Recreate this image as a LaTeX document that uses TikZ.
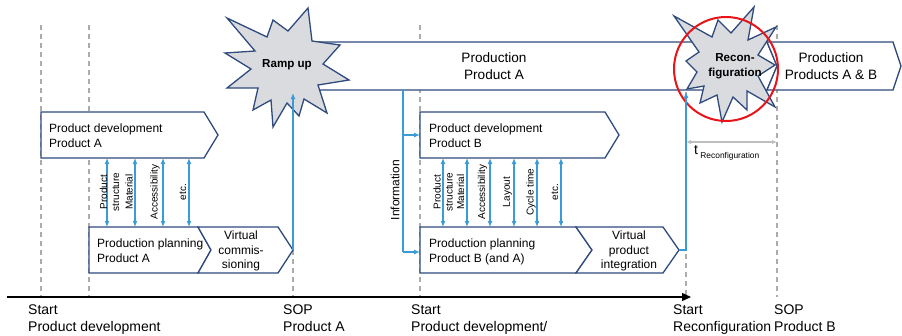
\documentclass[tikz,border=0pt]{standalone}
\usepackage{fontspec}
\setmainfont{Liberation Sans}
\usepackage{tikz}
\usetikzlibrary{arrows.meta}
\usetikzlibrary{calc}
\definecolor{navy}{RGB}{47,74,125}
\definecolor{infoblue}{RGB}{59,155,214}
\definecolor{stargray}{RGB}{218,219,222}
\definecolor{dashgray}{RGB}{172,172,172}
\definecolor{dimgray}{RGB}{190,190,190}
\definecolor{ringred}{RGB}{232,20,26}

\begin{document}
\begin{tikzpicture}[x=1pt,y=-1pt,
  phase/.style={draw=navy,line width=1.3pt,fill=white},
  burst/.style={draw=navy,line width=1.3pt,fill=stargray},
  milestone/.style={dashgray,line width=1.3pt,dash pattern=on 5pt off 4pt},
  info/.style={infoblue,line width=1.4pt},
  infoarrow/.style={info,-{Latex[length=6pt,width=5pt]}},
  both/.style={info,{Latex[length=6pt,width=5pt]}-{Latex[length=6pt,width=5pt]}},
  boxtext/.style={font=\fontsize{12}{15}\selectfont,align=left,anchor=north west,inner sep=0pt},
  vtext/.style={font=\fontsize{12}{14.5}\selectfont,align=center,inner sep=0pt},
  prodtext/.style={font=\fontsize{13.6}{17}\selectfont,align=center,inner sep=0pt},
  lbl/.style={font=\fontsize{10}{12}\selectfont,rotate=90,align=center,inner sep=0pt},
  mstext/.style={font=\fontsize{14}{17}\selectfont,align=left,anchor=north west,inner sep=0pt},
  burstlbl/.style={font=\bfseries\fontsize{11.6}{14.5}\selectfont,align=center,inner sep=0pt}]
\useasboundingbox (0,0) rectangle (902,335);
%%% milestones (dashed)
\foreach \x in {41,89,293,420,777}
  \draw[milestone] (\x,25) -- (\x,297);
\draw[milestone] (686,92) -- (686,297);
%
%%% production
\draw[phase] (280,42) -- (767,42) -- (777,66) -- (767,90) -- (280,90) -- cycle;
\node[prodtext] (prodA) at (494,66) {Production\\Product A};
\draw[phase] (767,42) -- (893,42) -- (901,66) -- (893,90) -- (767,90) -- (777,66) -- cycle;
\node[prodtext] (prodAB) at (831,66) {Production\\Products A \& B};
%
%%% product A
\draw[phase] (41,112) -- (204,112) -- (218,135) -- (204,158) -- (41,158) -- cycle;
\node[boxtext] (devA) at (49,124) {Product development\\Product A};
\draw[phase] (89,227) -- (198,227) -- (211,250) -- (198,273) -- (89,273) -- cycle;
\node[boxtext] (planA) at (97,239) {Production planning\\Product A};
\draw[phase] (198,227) -- (278,227) -- (293,250) -- (278,273) -- (198,273) -- (211,250) -- cycle;
\node[vtext] (vcA) at (241,251) {Virtual\\commis-\\sioning};
\coordinate (devA-b) at (41,158);
\coordinate (planA-t) at (89,227);
\coordinate (vcA-tip) at (293,250);
%
%%% product B
\draw[phase] (420,112) -- (605,112) -- (619,135) -- (605,158) -- (420,158) -- cycle;
\node[boxtext] (devB) at (429,124) {Product development\\Product B};
\draw[phase] (420,227) -- (576,227) -- (592,250) -- (576,273) -- (420,273) -- cycle;
\node[boxtext] (planB) at (429,239) {Production planning\\Product B (and A)};
\draw[phase] (576,227) -- (663,227) -- (679,250) -- (663,273) -- (576,273) -- (592,250) -- cycle;
\node[vtext] (vpi) at (629,251) {Virtual\\product\\integration};
\coordinate (devB-b) at (420,158);
\coordinate (planB-t) at (420,227);
\coordinate (devB-w) at (420,135);
\coordinate (planB-w) at (420,252);
\coordinate (vpi-tip) at (679,250);
%
%%% ramp up
\draw[burst] (227,18) -- (267,37) -- (273,20) -- (288,31) -- (308,8) -- (312,41)
  -- (340,45) -- (323,64) -- (349,80) -- (318,85) -- (327,113) -- (304,99)
  -- (299,116) -- (287,103) -- (273,127) -- (271,100) -- (253,110) -- (258,88)
  -- (227,88) -- (251,69) -- (225,53) -- (255,51) -- cycle;
\node[burstlbl] (ramp) at (287,65) {Ramp up};
\coordinate (ramp-in) at (293,93);
%
%%% reconfiguration
\draw[burst] (674,16) -- (712,37) -- (718,20) -- (731,33) -- (754,7) -- (748,40)
  -- (776,27) -- (758,55) -- (775,65) -- (758,76) -- (775,107) -- (747,91)
  -- (747,110) -- (733,97) -- (722,122) -- (717,95) -- (700,103) -- (704,86)
  -- (687,89) -- (697,72) -- (686,61) -- (699,52) -- cycle;
\node[burstlbl] (reconf) at (735,66) {Recon-\\figuration};
\node[draw=ringred,line width=2pt,circle,minimum size=104pt,inner sep=0pt] (ring) at (726,69) {};
\coordinate (reconf-in) at (686,92);
%
%%% information flow
\foreach \x in {107,135,163,189}
  \draw[both] (\x,0 |- devA-b) -- (\x,0 |- planA-t);
\foreach \x in {443,467,490,514,537,561}
  \draw[both] (\x,0 |- devB-b) -- (\x,0 |- planB-t);
\foreach \x/\t [count=\i] in {109.5/{Product\\structure},129/Material,155/Accessibility,183/etc.}
  \node[lbl] (labA\i) at (\x,192) {\t};
\foreach \x/\t [count=\i] in {443/{Product\\structure},460.5/Material,482.5/Accessibility,507.5/Layout,531/Cycle time,555/etc.}
  \node[lbl] (labB\i) at (\x,192) {\t};
\coordinate (info-top) at (403,90);
\coordinate (info-mid) at (403,135);
\coordinate (info-bot) at (403,252);
\draw[info] (info-top) -- (info-bot);
\draw[infoarrow] (info-mid) -- (devB-w);
\draw[infoarrow] (info-bot) -- (planB-w);
\node[lbl,font=\fontsize{12}{14}\selectfont] (info) at (395,190) {Information};
\draw[infoarrow] (vcA-tip) -- (ramp-in);
\draw[infoarrow] (vpi-tip) -| (reconf-in);
%
%%% reconfiguration time
\coordinate (dimL) at (686,142);
\coordinate (dimR) at (777,142);
\draw[dimgray,line width=1.2pt,{Latex[length=5pt,width=4.5pt]}-{Latex[length=5pt,width=4.5pt]}] (dimL) -- (dimR);
\node[anchor=west,inner sep=0pt,font=\fontsize{14}{16}\selectfont] (tlab) at (694,153)
  {t\,\raisebox{-4pt}{\fontsize{8.4}{9}\selectfont Reconfiguration}};
%
%%% time axis
\coordinate (t0) at (7,297);
\coordinate (t1) at (691,297);
\draw[line width=1.3pt,-{Triangle[length=9pt,width=8pt]}] (t0) -- (t1);
\node[mstext] (m1) at (28,305) {Start\\Product development};
\node[mstext] (m2) at (283,305) {SOP\\Product A};
\node[mstext] (m3) at (411,305) {Start\\Product development/};
\node[mstext] (m4) at (673,305) {Start\\Reconfiguration};
\node[mstext] (m5) at (774,305) {SOP\\Product B};
\end{tikzpicture}
\end{document}
